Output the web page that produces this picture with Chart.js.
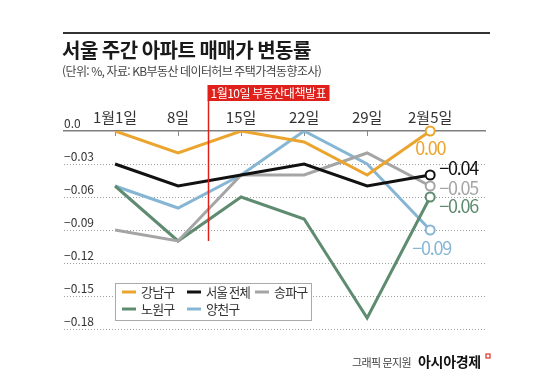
<!DOCTYPE html>
<html lang="ko">
<head>
    <meta charset="UTF-8">
    <title>서울 주간 아파트 매매가 변동률</title>
    <script src="https://cdn.jsdelivr.net/npm/chart.js"></script>
    <style>
        html, body { margin: 0; padding: 0; background: #fff; }
        #wrap { width: 550px; height: 375px; position: relative; }
    </style>
</head>
<body>
<div id="wrap"><canvas id="myChart" width="550" height="375"></canvas></div>
<script>
    const FONT = '"Noto Sans CJK KR", "Noto Sans", sans-serif';

    // data
    const weeks = ['1월1일', '8일', '15일', '22일', '29일', '2월5일'];
    const gangnam = [0.00, -0.02, 0.00, -0.01, -0.04, 0.00];
    const seoul = [-0.03, -0.05, -0.04, -0.03, -0.05, -0.04];
    const songpa = [-0.09, -0.10, -0.04, -0.04, -0.02, -0.05];
    const nowon = [-0.05, -0.10, -0.06, -0.08, -0.17, -0.06];
    const yangcheon = [-0.05, -0.07, -0.04, 0.00, -0.03, -0.09];
    const endLabels = ['0.00', '−0.04', '−0.05', '−0.06', '−0.09'];
    const yTickValues = [0, -0.03, -0.06, -0.09, -0.12, -0.15, -0.18];
    const yTickLabels = ['0.0', '−0.03', '−0.06', '−0.09', '−0.12', '−0.15', '−0.18'];
    const eventLabel = '1월10일 부동산대책발표';
    const eventX = 1.48;

    const series = [
        { label: '강남구', data: gangnam, color: '#eba52e' },
        { label: '서울 전체', data: seoul, color: '#111111' },
        { label: '송파구', data: songpa, color: '#a5a5a5' },
        { label: '노원구', data: nowon, color: '#5f8c70' },
        { label: '양천구', data: yangcheon, color: '#86b6d4' }
    ];
    // end label offsets (dx, dy) from last point
    const labelOffsets = [[-15, 17], [9, -7], [9, 2], [9, 9], [-18, 18]];

    const ctx = document.getElementById('myChart').getContext('2d');

    function setSpacing(c, v) {
        if ('letterSpacing' in c) c.letterSpacing = v;
    }

    // title, subtitle, footer, grid, event marker, end labels, legend
    const decor = {
        id: 'decor',
        beforeDraw(chart) {
            const c = chart.ctx;
            c.save();
            c.fillStyle = '#fff';
            c.fillRect(0, 0, chart.width, chart.height);
            c.strokeStyle = '#333';
            c.lineWidth = 2;
            c.beginPath();
            c.moveTo(63, 33); c.lineTo(490, 33);
            c.stroke();
            c.fillStyle = '#1a1a1a';
            c.textBaseline = 'middle';
            setSpacing(c, '-0.5px');
            c.font = 'bold 20px ' + FONT;
            c.fillText('서울 주간 아파트 매매가 변동률', 62, 50);
            c.fillStyle = '#444';
            c.font = '12px ' + FONT;
            setSpacing(c, '-0.6px');
            c.fillText('(단위: %, 자료: KB부동산 데이터허브 주택가격동향조사)', 62, 71);
            // footer
            c.fillStyle = '#444';
            c.font = '11px ' + FONT;
            setSpacing(c, '-0.6px');
            c.fillText('그래픽 문지원', 352, 363);
            c.fillStyle = '#111';
            c.font = 'bold 14px ' + FONT;
            setSpacing(c, '-0.3px');
            c.fillText('아시아경제', 418, 362);
            c.strokeStyle = '#e0302a';
            c.lineWidth = 1.2;
            c.strokeRect(486, 354, 4, 4);
            c.restore();

            // dotted gridlines from the y scale
            const xs = chart.scales.x, ys = chart.scales.y;
            c.save();
            c.strokeStyle = '#a0a0a0';
            c.lineWidth = 1;
            c.setLineDash([1, 2]);
            yTickValues.forEach(v => {
                if (v === 0) return;
                const py = Math.round(ys.getPixelForValue(v)) + 0.5;
                c.beginPath();
                c.moveTo(xs.left, py); c.lineTo(xs.right, py);
                c.stroke();
            });
            c.restore();
        },
        afterDatasetsDraw(chart) {
            const c = chart.ctx;
            const xs = chart.scales.x, ys = chart.scales.y;
            c.save();
            // event line
            const ex = Math.round(xs.getPixelForValue(eventX)) + 0.5;
            c.strokeStyle = '#e0201b';
            c.lineWidth = 1.5;
            c.beginPath();
            c.moveTo(ex, 100);
            c.lineTo(ex, ys.getPixelForValue(-0.10));
            c.stroke();
            c.fillStyle = '#e0201b';
            c.fillRect(ex - 1, 85, 122, 16);
            c.fillStyle = '#fff';
            c.font = '12px ' + FONT;
            setSpacing(c, '-0.5px');
            c.textBaseline = 'middle';
            c.fillText(eventLabel, ex + 2, 93.5, 117);

            // end markers and labels
            const last = weeks.length - 1;
            series.forEach((s, i) => {
                const px = xs.getPixelForValue(last);
                const py = ys.getPixelForValue(s.data[last]);
                c.beginPath();
                c.arc(px, py, 4.5, 0, Math.PI * 2);
                c.fillStyle = '#fff';
                c.fill();
                c.lineWidth = 2;
                c.strokeStyle = s.color;
                c.stroke();
                c.fillStyle = s.color;
                c.font = '18px ' + FONT;
                setSpacing(c, '-1.2px');
                c.textAlign = 'left';
                c.fillText(endLabels[i], px + labelOffsets[i][0], py + labelOffsets[i][1]);
            });

            // legend
            c.fillStyle = '#fff';
            c.fillRect(115, 283, 196, 37);
            c.strokeStyle = '#aaa';
            c.lineWidth = 1;
            c.strokeRect(115.5, 283.5, 196, 37);
            const pos = [[122, 292], [187, 292], [255, 292], [122, 309], [187, 309]];
            const widths = [34, 44, 34, 34, 34];
            c.font = '13px ' + FONT;
            setSpacing(c, '-0.8px');
            series.forEach((s, i) => {
                const [lx, ly] = pos[i];
                c.strokeStyle = s.color;
                c.lineWidth = 3;
                c.beginPath();
                c.moveTo(lx, ly); c.lineTo(lx + 14, ly);
                c.stroke();
                c.fillStyle = '#333';
                c.fillText(s.label, lx + 19, ly, widths[i]);
            });
            c.restore();
        },
        beforeDatasetsDraw(chart) {
            // small tick marks under the zero line
            const c = chart.ctx;
            const xs = chart.scales.x, ys = chart.scales.y;
            c.save();
            c.strokeStyle = '#888';
            c.lineWidth = 1;
            weeks.forEach((w, i) => {
                const px = Math.round(xs.getPixelForValue(i)) + 0.5;
                const py = ys.getPixelForValue(0);
                c.beginPath();
                c.moveTo(px, py); c.lineTo(px, py + 5);
                c.stroke();
            });
            c.restore();
        }
    };

    new Chart(ctx, {
        type: 'line',
        data: {
            datasets: series.map((s, i) => ({
                label: s.label,
                data: s.data.map((v, j) => ({ x: j, y: v })),
                borderColor: s.color,
                backgroundColor: s.color,
                borderWidth: 3,
                pointRadius: 0,
                tension: 0,
                fill: false,
                order: i === 1 ? 0 : 1
            }))
        },
        options: {
            responsive: false,
            animation: false,
            layout: { padding: { left: 64, right: 65, top: 91, bottom: 46 } },
            plugins: { legend: { display: false }, tooltip: { enabled: false } },
            scales: {
                x: {
                    type: 'linear',
                    position: 'top',
                    min: -0.81,
                    max: 5.87,
                    afterBuildTicks: axis => {
                        axis.ticks = weeks.map((w, i) => ({ value: i }));
                    },
                    afterFit: axis => { axis.height = 40; },
                    grid: { display: false, drawTicks: false },
                    border: { display: true, color: '#7f7f7f', width: 1.5 },
                    ticks: {
                        padding: 5,
                        color: '#333',
                        font: { family: FONT, size: 15 },
                        maxRotation: 0,
                        callback: (v) => weeks[v]
                    }
                },
                y: {
                    min: -0.18,
                    max: 0,
                    afterBuildTicks: axis => {
                        axis.ticks = yTickValues.map(v => ({ value: v }));
                    },
                    afterFit: axis => { axis.width = 0; },
                    grid: { display: false, drawTicks: false },
                    border: { display: false },
                    ticks: {
                        mirror: true,
                        padding: 0,
                        labelOffset: -8,
                        color: '#333',
                        font: { family: FONT, size: 12 },
                        callback: (v, i) => yTickLabels[i]
                    }
                }
            }
        },
        plugins: [decor]
    });
</script>
</body>
</html>
